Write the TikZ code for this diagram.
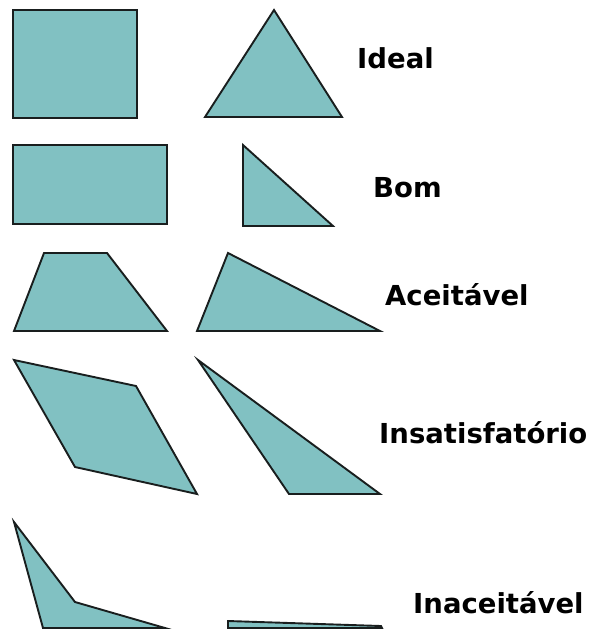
\documentclass[tikz,border=0pt]{standalone}
\usepackage{fontspec}
\newfontfamily\labfont{DejaVu Sans}
\definecolor{shapefill}{RGB}{129,193,194}
\definecolor{shapeline}{RGB}{25,30,30}
\tikzset{
  shp/.style={fill=shapefill, draw=shapeline, line width=1.9pt, line join=miter},
  thick shp/.style={shp, line width=2.4pt},
  lab/.style={anchor=base west, inner sep=0pt, font=\labfont\bfseries\fontsize{27.5}{27.5}\selectfont, text=black}
}
\begin{document}
\begin{tikzpicture}[x=1pt,y=-1pt]
\useasboundingbox (0,0) rectangle (589,630);
% Ideal
\draw[thick shp] (13,10) rectangle (137,118);
\draw[shp] (274,10) -- (342,117) -- (205,117) -- cycle;
\node[lab] (ideal) at (357,68) {Ideal};
% Bom
\draw[thick shp] (13,145) rectangle (167,224);
\draw[shp] (243,145) -- (333,226) -- (243,226) -- cycle;
\node[lab] (bom) at (373,197) {Bom};
% Aceitavel
\draw[shp] (44,253) -- (107,253) -- (167,331) -- (14,331) -- cycle;
\draw[shp] (228,253) -- (380,331) -- (197,331) -- cycle;
\node[lab] (aceitavel) at (385,305) {Aceitável};
% Insatisfatorio
\draw[shp] (14,360) -- (136,386) -- (197,494) -- (75,467) -- cycle;
\draw[shp] (198,360) -- (380,494) -- (289,494) -- cycle;
\node[lab] (insat) at (379,443) {Insatisfatório};
% Inaceitavel
\draw[shp] (14,522) -- (75,602) -- (165,628) -- (43,628) -- cycle;
\draw[shp] (228,621) -- (381,626) -- (382,628) -- (228,628) -- cycle;
\node[lab] (inac) at (413,613) {Inaceitável};
\end{tikzpicture}
\end{document}
